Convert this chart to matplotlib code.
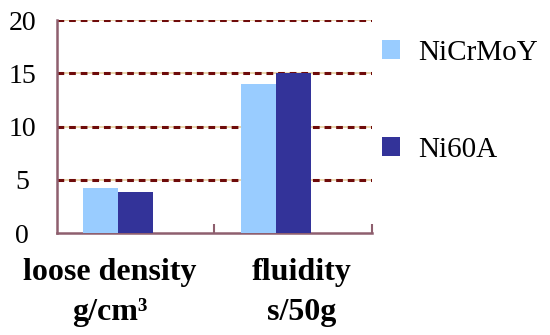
import matplotlib.pyplot as plt
import numpy as np

categories = ["loose density\ng/cm³", "fluidity\ns/50g"]
series_names = ["NiCrMoY", "Ni60A"]
nicrmoy = [4.2, 14.0]
ni60a = [3.9, 15.0]
y_ticks = [0, 5, 10, 15, 20]

colors = ["#99ccff", "#333399"]
grid_color = "#6e0a0a"
spine_color = "#8e5f6e"
serif = ["Liberation Serif", "DejaVu Serif"]

fig = plt.figure(figsize=(5.5, 3.35), dpi=100)
ax = fig.add_axes([0.1036, 0.304, 0.5727, 0.636])

x = np.arange(len(categories))
w = 0.222
# Excel-like layout: three slots per category, the last one empty
bars = []
for i, (vals, name) in enumerate(zip([nicrmoy, ni60a], series_names)):
    b = ax.bar(x + (i - 1) * w, vals, width=w, color=colors[i],
               label=name, zorder=3, linewidth=0)
    bars.append(b)

# dashed grid lines
for yv in y_ticks[1:]:
    ax.axhline(yv, color="#e6cfa0", lw=1.2, zorder=1)
    ax.axhline(yv, color=grid_color, lw=2.2, dashes=(2.2, 1.6), zorder=2)

ax.set_xlim(-0.5, len(categories) - 0.5)
ax.set_ylim(0, 20)
ax.set_yticks(y_ticks)
ax.tick_params(axis="y", length=0, pad=25, labelsize=20)
for lbl in ax.get_yticklabels():
    lbl.set_ha("center")
    lbl.set_family(serif)

ax.set_xticks(x[:-1] + 0.5, [""] * (len(x) - 1))
ax.set_xticks([len(x) - 0.5], [""], minor=True)
ax.tick_params(axis="x", which="both", direction="in", length=6.5,
               width=1.5, color=spine_color)

for s in ["top", "right"]:
    ax.spines[s].set_visible(False)
for s in ["left", "bottom"]:
    ax.spines[s].set_color(spine_color)
    ax.spines[s].set_linewidth(1.8)

# category labels below the axis
label_x = [-0.165, 1.055]
for lx, cat in zip(label_x, categories):
    ax.text(lx, -0.115, cat, transform=ax.get_xaxis_transform(),
            ha="center", va="top", fontsize=23, fontweight="bold",
            family=serif, linespacing=1.5)

fig.legend(handles=bars, labels=series_names, loc="upper left",
           bbox_to_anchor=(0.6945, 0.882), frameon=False,
           prop={"family": serif, "size": 21},
           handlelength=0.62, handleheight=0.62, handletextpad=0.62,
           labelspacing=2.45, borderpad=0, borderaxespad=0)

fig.savefig("out.png", dpi=100)
